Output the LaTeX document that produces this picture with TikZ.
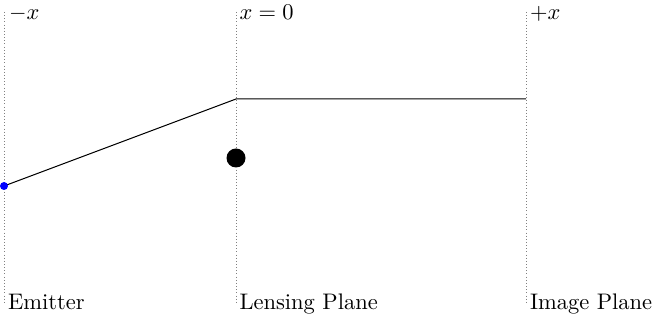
\documentclass[tikz,border=0pt]{standalone}
\begin{document}
\begin{tikzpicture}[x=0.4444pt,y=-0.4444pt,
  plane/.style={gray,densely dotted,line width=0.4pt},
  ray/.style={black,line width=0.45pt},
  lbl/.style={anchor=base west,inner sep=0pt,outer sep=0pt}]
\useasboundingbox (0,0) rectangle (658,323);
% planes
\coordinate (et) at (4,12);   \coordinate (eb) at (4,303);
\coordinate (lt) at (236,12); \coordinate (lb) at (236,303);
\coordinate (it) at (526,12); \coordinate (ib) at (526,303);
\draw[plane] (et) -- (eb);
\draw[plane] (lt) -- (lb);
\draw[plane] (it) -- (ib);
% labels
\node[lbl] (tl) at (9,19.5) {$-x$};
\node[lbl] (tm) at (239.5,19.5) {$x=0$};
\node[lbl] (tr) at (530,19.5) {$+x$};
\node[lbl] (bl) at (8,309.5) {Emitter};
\node[lbl] (bm) at (239.5,309.5) {Lensing Plane};
\node[lbl] (br) at (530,309.5) {Image Plane};
% ray
\coordinate (src) at (4,186);
\coordinate (lens) at (236,99);
\coordinate (img) at (526,99);
\draw[ray] (src) -- (lens) -- (img);
\fill[blue] (src) circle[radius=4];
\node[circle,fill=black,inner sep=0pt,minimum size=19*0.4444pt] (mass) at (236,158) {};
\end{tikzpicture}
\end{document}
